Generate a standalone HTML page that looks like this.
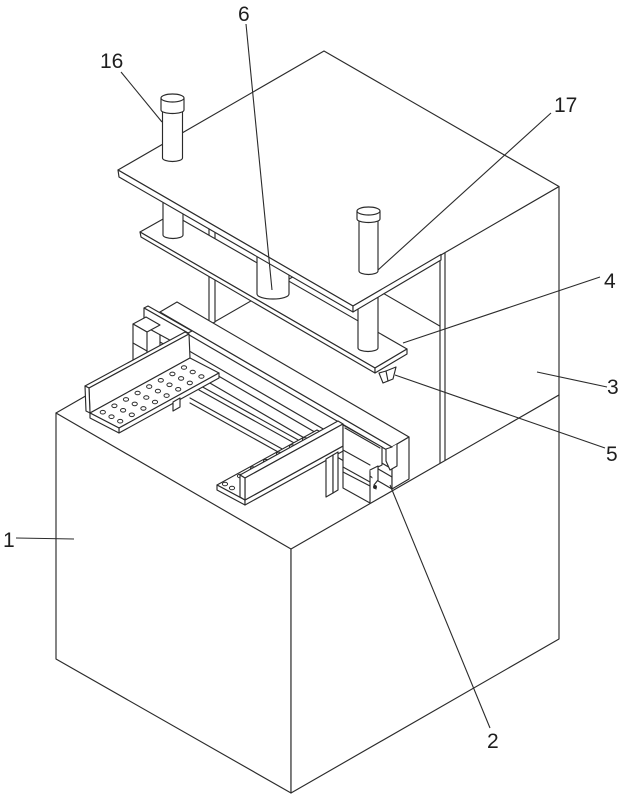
<!DOCTYPE html>
<html><head><meta charset="utf-8"><style>
html,body{margin:0;padding:0;background:#fff;}
svg{display:block;}
text{font-family:"Liberation Sans",Arial,sans-serif;font-size:21px;fill:#1e1e1e;}
</style></head><body>
<svg width="626" height="799" viewBox="0 0 626 799" xmlns="http://www.w3.org/2000/svg">
<g fill="#fff" stroke="#2b2b2b" stroke-width="1.15" stroke-linejoin="round" stroke-linecap="round">

<!-- back floor lines of base top -->
<line x1="56" y1="413" x2="324" y2="259"/>
<line x1="324" y1="259" x2="559" y2="395"/>

<!-- left post of frame -->
<polygon points="209,226 215,226 215,322 209,325"/>

<!-- right wall of tower -->
<polygon points="440,255 559,186.5 559,395 440,464"/>
<line x1="445" y1="253" x2="445" y2="461"/>

<!-- lower plate (4) -->
<polygon points="140,232 172,214 407,349 375,368"/>
<polygon points="140,232 375,368 375,373 141,237"/>
<polygon points="375,368 407,349 407,354 375,373"/>

<!-- blade (5) -->
<polygon points="379,373 383,383 393,379 396,367 386,371"/>
<line x1="386" y1="371" x2="388" y2="381"/>

<!-- press cylinder 6 -->
<path d="M257,248 V294 A16,5 0 0 0 289,294 V248 Z"/>

<!-- guide rods under top plate -->
<path d="M163,200 V235 A10,3.5 0 0 0 183,235 V200 Z"/>
<path d="M358,292 V348 A10,3.5 0 0 0 378,348 V292 Z"/>

<!-- top plate -->
<polygon points="118,170 324,51 559,186.5 353,306"/>
<polygon points="118,170 353,306 353,312 119,177"/>
<polygon points="353,306 441,254.5 441,260 353,312"/>

<!-- cylinder 16 on top -->
<path d="M162.5,108 V158 A10,3.5 0 0 0 182.5,158 V108 Z"/>
<path d="M161,98 V110 A11.5,3.5 0 0 0 184,110 V98 Z"/>
<ellipse cx="172.5" cy="98" rx="11.5" ry="4"/>

<!-- cylinder 17 on top -->
<path d="M359,218 V271 A9.5,3.5 0 0 0 378,271 V218 Z"/>
<path d="M357,211 V219 A11.5,3.5 0 0 0 380,219 V211 Z"/>
<ellipse cx="368.5" cy="211" rx="11.5" ry="4"/>

<!-- ===== conveyor (2) ===== -->
<!-- main rail -->
<polygon points="160,312 392,447 392,489 160,354"/>
<polygon points="177,302 409,437 392,447 160,312"/>
<polygon points="392,447 409,437 409,479 392,489"/>
<line x1="160" y1="318" x2="392" y2="453"/>
<line x1="160" y1="334" x2="392" y2="469"/>
<line x1="160" y1="342" x2="392" y2="477"/>
<polyline points="392,447 386,449 386,461 390,470 397,466 397,444"/>

<!-- lower rails (parallel) -->
<line x1="199" y1="385" x2="300" y2="441"/>
<line x1="199" y1="390" x2="296" y2="444"/>
<line x1="190" y1="398" x2="284" y2="450"/>
<line x1="190" y1="403" x2="280" y2="453"/>

<!-- left end blocks -->
<polygon points="144,308 148,306 192,331 188,333"/>
<polygon points="144,308 188,333 188,350 144,326"/>
<polygon points="133,324 146,317 160,325 147,332"/>
<polygon points="133,324 147,332 147,368 133,360"/>
<line x1="133" y1="343" x2="147" y2="351"/>

<!-- left bracket fence -->
<polygon points="85,386 185,332 189,334 89,388"/>
<polygon points="89,388 189,334 190,358 90,413"/>
<polygon points="85,386 89,388 90,413 86,411"/>
<!-- left slotted plate -->
<polygon points="90,413 190,358 219,373 119,428"/>
<polygon points="119,428 219,373 219,378 119,433"/>
<polygon points="90,413 119,428 119,433 90,418"/>
<polygon points="173,402 180,398 180,407 173,411"/>
<g stroke-width="1">
<ellipse cx="102.8" cy="412.2" rx="2.6" ry="1.8"/><ellipse cx="111.5" cy="416.7" rx="2.6" ry="1.8"/><ellipse cx="120.2" cy="421.2" rx="2.6" ry="1.8"/>
<ellipse cx="114.4" cy="405.8" rx="2.6" ry="1.8"/><ellipse cx="123.1" cy="410.3" rx="2.6" ry="1.8"/><ellipse cx="131.8" cy="414.8" rx="2.6" ry="1.8"/>
<ellipse cx="126" cy="399.4" rx="2.6" ry="1.8"/><ellipse cx="134.7" cy="403.9" rx="2.6" ry="1.8"/><ellipse cx="143.4" cy="408.4" rx="2.6" ry="1.8"/>
<ellipse cx="137.6" cy="393" rx="2.6" ry="1.8"/><ellipse cx="146.3" cy="397.5" rx="2.6" ry="1.8"/><ellipse cx="155" cy="402" rx="2.6" ry="1.8"/>
<ellipse cx="149.2" cy="386.6" rx="2.6" ry="1.8"/><ellipse cx="157.9" cy="391.1" rx="2.6" ry="1.8"/><ellipse cx="166.6" cy="395.6" rx="2.6" ry="1.8"/>
<ellipse cx="160.8" cy="380.3" rx="2.6" ry="1.8"/><ellipse cx="169.5" cy="384.8" rx="2.6" ry="1.8"/><ellipse cx="178.2" cy="389.3" rx="2.6" ry="1.8"/>
<ellipse cx="172.4" cy="373.9" rx="2.6" ry="1.8"/><ellipse cx="181.1" cy="378.4" rx="2.6" ry="1.8"/><ellipse cx="189.8" cy="382.9" rx="2.6" ry="1.8"/>
<ellipse cx="184" cy="367.5" rx="2.6" ry="1.8"/><ellipse cx="192.7" cy="372" rx="2.6" ry="1.8"/><ellipse cx="201.4" cy="376.5" rx="2.6" ry="1.8"/>
</g>

<!-- right bracket plate -->
<polygon points="217,485 317,430 345,445 245,500"/>
<polygon points="217,485 245,500 245,505 217,490"/>
<polygon points="245,500 345,445 345,450 245,505"/>
<g stroke-width="1">
<ellipse cx="225" cy="484" rx="2.6" ry="1.8"/><ellipse cx="232" cy="488" rx="2.6" ry="1.8"/>
<ellipse cx="240" cy="476" rx="2.6" ry="1.8"/><ellipse cx="253" cy="468.5" rx="2.6" ry="1.8"/>
<ellipse cx="266" cy="461.2" rx="2.6" ry="1.8"/><ellipse cx="279" cy="453.9" rx="2.6" ry="1.8"/>
<ellipse cx="292" cy="446.6" rx="2.6" ry="1.8"/><ellipse cx="305" cy="439.4" rx="2.6" ry="1.8"/>
</g>
<!-- right bracket fence -->
<polygon points="240,475 338,421 343,424 245,478"/>
<polygon points="245,478 343,424 343,446 245,500"/>
<polygon points="240,475 245,478 245,500 240,497"/>
<!-- leg -->
<polygon points="326,459 333,455 333,493 326,497"/>
<polygon points="333,455 338,452 338,490 333,493"/>

<!-- right end box -->
<polygon points="343,425 382,447 382,465 370,471 370,503 343,488"/>
<line x1="345" y1="428" x2="380" y2="448"/>
<line x1="343" y1="450" x2="370" y2="465"/>
<line x1="343" y1="467" x2="370" y2="482"/>
<line x1="343" y1="472" x2="370" y2="486"/>
<polyline points="370,470 378,466 378,480 374,485 376,489"/>
<circle cx="375" cy="487" r="1.4" fill="#222"/>

<!-- ===== base (1) ===== -->
<polygon points="56,413 291,549 291,793 56,659"/>
<polygon points="291,549 559,395 559,639 291,793"/>
</g>

<!-- leader lines -->
<g stroke="#2b2b2b" stroke-width="1.1" fill="none">
<line x1="121" y1="72" x2="162" y2="122"/>
<line x1="246" y1="24" x2="272" y2="290"/>
<line x1="551" y1="113" x2="378" y2="270"/>
<line x1="600" y1="277" x2="403" y2="343"/>
<line x1="607" y1="387" x2="537" y2="372"/>
<line x1="605" y1="448" x2="395" y2="375"/>
<line x1="490" y1="728" x2="390" y2="485"/>
<line x1="16" y1="538" x2="74" y2="539"/>
</g>

<!-- labels -->
<text x="100" y="68">16</text>
<text x="238" y="21">6</text>
<text x="554" y="112">17</text>
<text x="604" y="288">4</text>
<text x="607" y="394">3</text>
<text x="606" y="461">5</text>
<text x="487" y="748">2</text>
<text x="3" y="547">1</text>
</svg>
</body></html>
